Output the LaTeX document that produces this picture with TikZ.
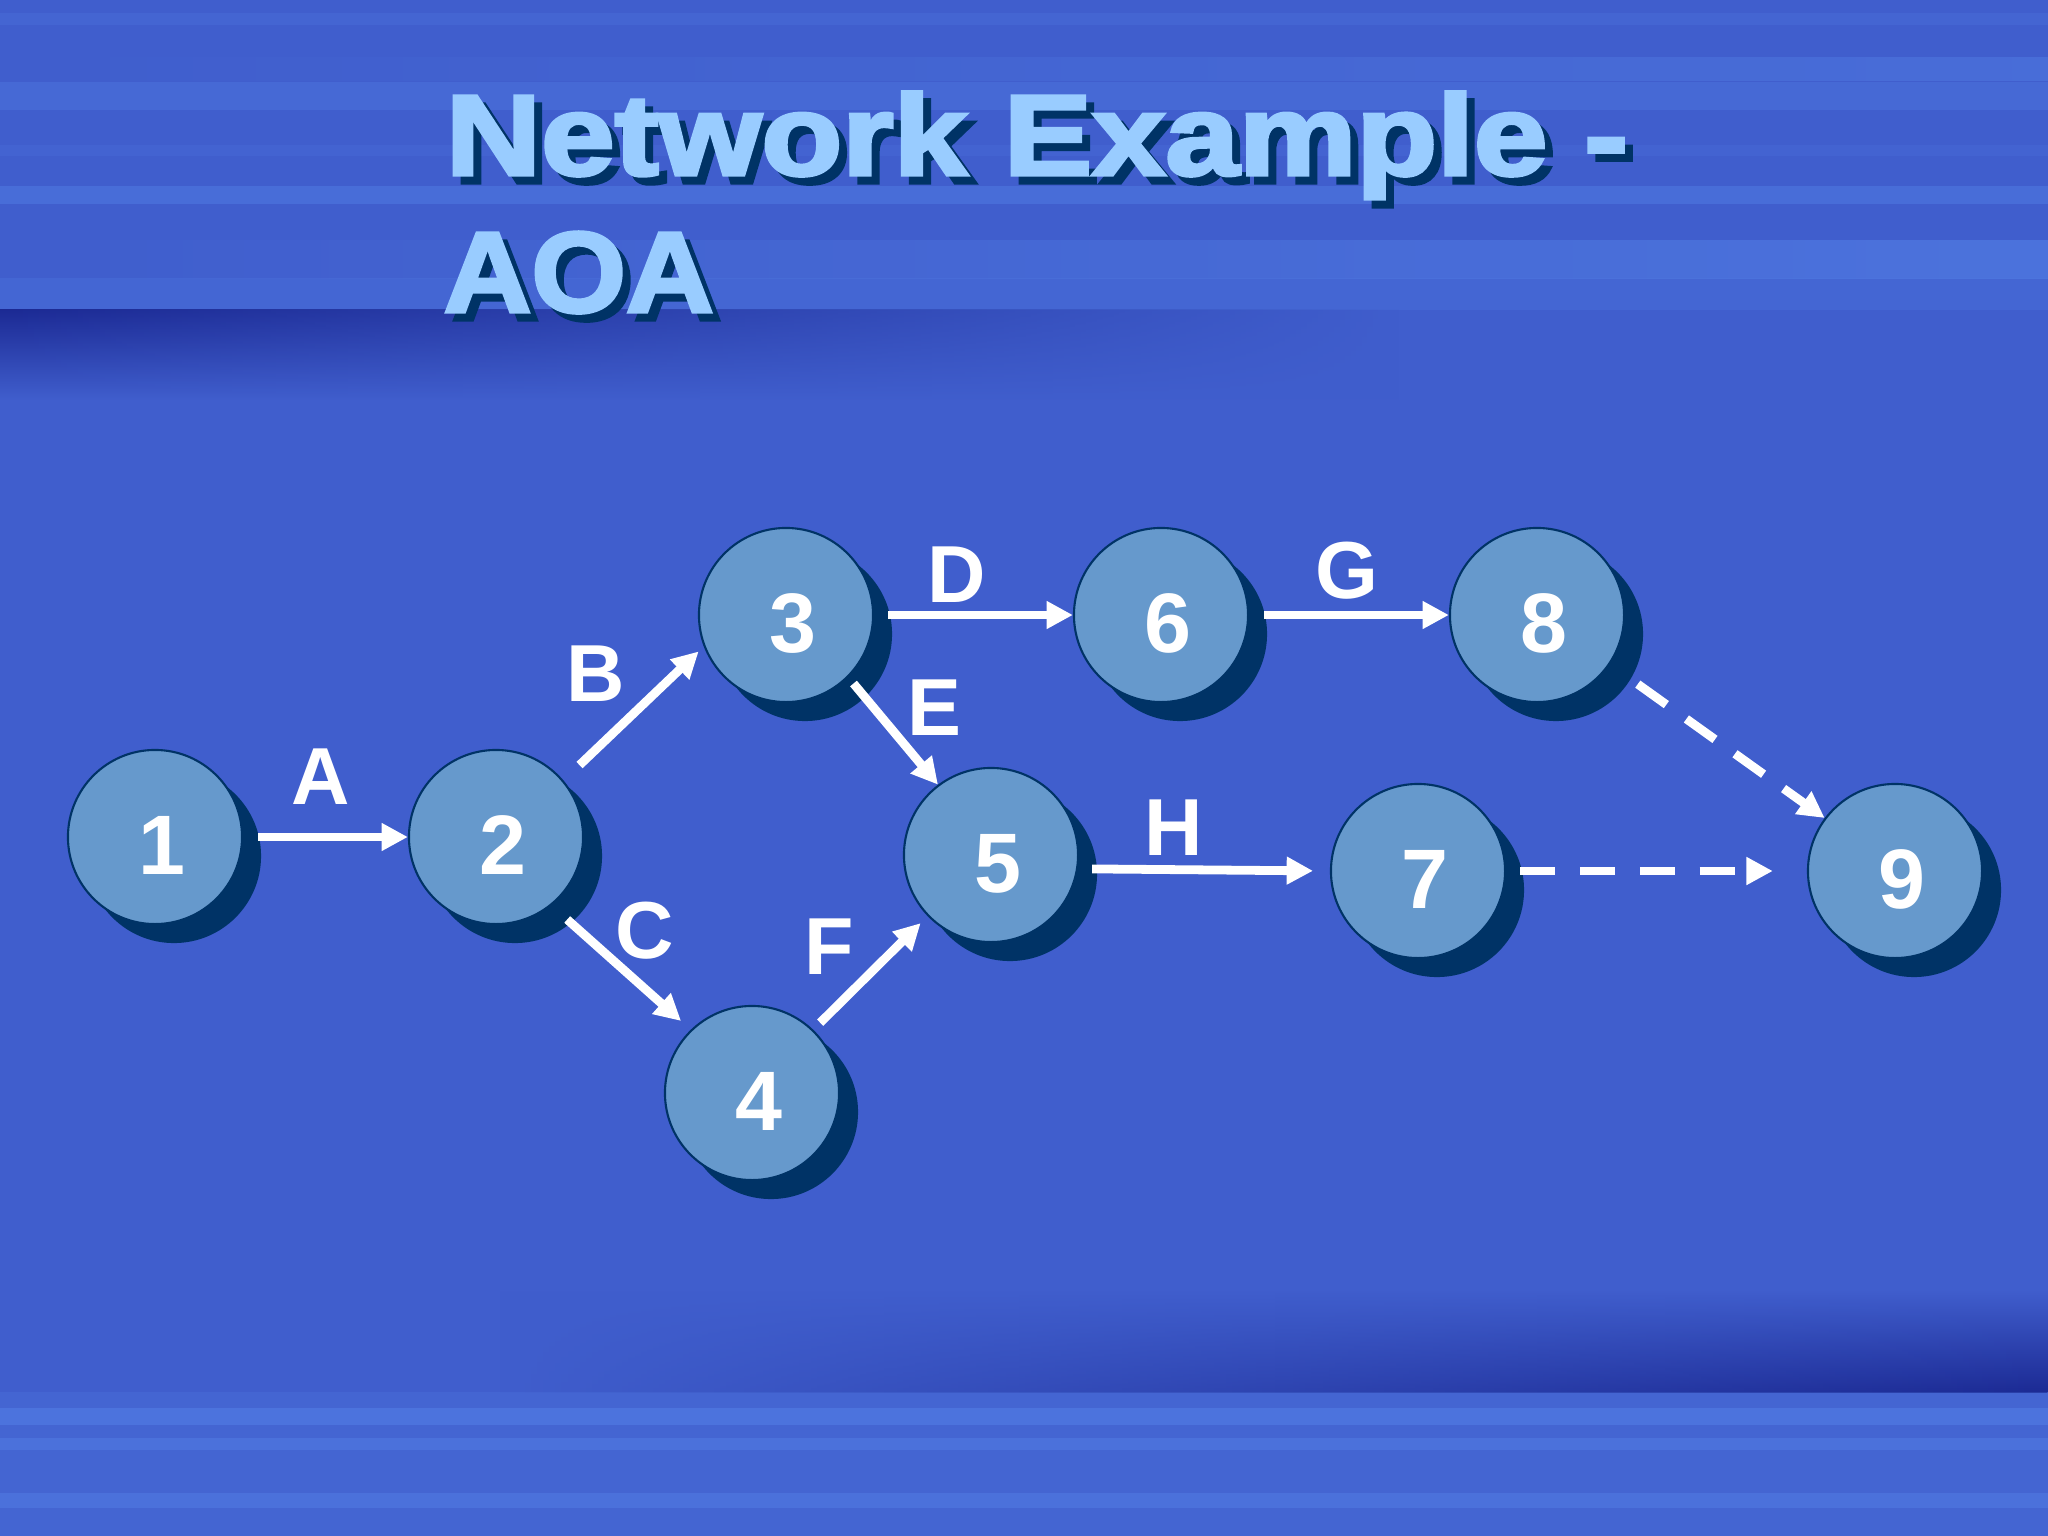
\documentclass[tikz,border=0pt]{standalone}
\usepackage{fontspec,graphicx}
\setmainfont{Liberation Sans}
\newfontfamily\titlefont[FakeBold=3]{Liberation Sans Bold}
\usetikzlibrary{arrows.meta,shadows,fadings}

\definecolor{slidebg}{RGB}{64,94,205}
\definecolor{stripe}{RGB}{80,122,226}
\definecolor{deepband}{RGB}{28,42,148}
\definecolor{eventfill}{RGB}{102,153,204}
\definecolor{navy}{RGB}{0,51,102}
\definecolor{titleblue}{RGB}{153,204,255}

\tikzfading[name=fade left, left color=transparent!100, right color=transparent!0]
\tikzfading[name=fade right, left color=transparent!0, right color=transparent!100]

\tikzset{
	event/.style={circle, draw=navy, line width=0.6pt, fill=eventfill, minimum size=1.74cm, inner sep=0pt,
		text=white, font=\fontsize{24}{24}\bfseries\selectfont, text height=0.75cm, text depth=0pt,
		execute at begin node={\hspace*{0.13cm}},
		drop shadow={shadow xshift=0.19cm, shadow yshift=-0.19cm, fill=navy, opacity=1}},
	actlabel/.style={text=white, font=\fontsize{23}{23}\bfseries\selectfont, inner sep=0pt},
	activity/.style={-{Triangle[length=7.5pt,width=7.5pt]}, white, line width=2.5pt},
	dummy/.style={activity, dash pattern=on 10pt off 7pt},
	titletext/.style={anchor=base west, inner sep=0pt, text=titleblue, font=\fontsize{32.6}{32.6}\titlefont},
	titleshade/.style={titletext, text=navy}
}

\begin{document}
\begin{tikzpicture}[x=0.01cm, y=-0.01cm]
		\useasboundingbox (0,0) rectangle (2048,1536);
		\fill[slidebg] (0,0) rectangle (2048,1536);
		
		\fill[stripe, opacity=.25] (0,13) rectangle (2048,25);
		\shade[left color=slidebg, right color=stripe, opacity=.55] (0,57) rectangle (2048,80);
		\fill[stripe, opacity=.4] (0,82) rectangle (2048,110);
		\fill[stripe, opacity=.2] (0,145) rectangle (2048,156);
		\fill[stripe, opacity=.55] (0,186) rectangle (2048,204);
		\shade[left color=slidebg, right color=stripe, opacity=.75] (0,240) rectangle (2048,278);
		\fill[stripe, opacity=.3] (0,278) rectangle (2048,310);
		\shade[top color=deepband, bottom color=slidebg, path fading=fade right] (0,310) rectangle (1400,400);
		
		\shade[top color=slidebg, bottom color=deepband, path fading=fade left] (500,1290) rectangle (2048,1392);
		\fill[stripe, opacity=.25] (0,1392) rectangle (2048,1536);
		\fill[stripe, opacity=.7] (0,1408) rectangle (2048,1425);
		\fill[stripe, opacity=.6] (0,1438) rectangle (2048,1450);
		\fill[stripe, opacity=.6] (0,1493) rectangle (2048,1508);
		
		\node[titleshade] (t1s) at (453,183) {\scalebox{1.153}[1]{Network Example -}};
		\node[titleshade] (t2s) at (451,320) {\scalebox{1.06}[1]{AOA}};
		\node[titletext] (t1) at (445,175) {\scalebox{1.153}[1]{Network Example -}};
		\node[titletext] (t2) at (443,312) {\scalebox{1.06}[1]{AOA}};
		
		\node[event] (n1) at (155,837) {1};
		\node[event] (n2) at (496,837) {2};
		\node[event] (n3) at (786,615) {3};
		\node[event] (n4) at (752,1093) {4};
		\node[event] (n5) at (991,855) {5};
		\node[event] (n6) at (1161,615) {6};
		\node[event] (n7) at (1418,871) {7};
		\node[event] (n8) at (1537,615) {8};
		\node[event] (n9) at (1895,871) {9};
		
		\node[actlabel] (lA) at (321,777) {A};
		\node[actlabel] (lB) at (596,674) {B};
		\node[actlabel] (lC) at (645,931) {C};
		\node[actlabel] (lD) at (957,575) {D};
		\node[actlabel] (lE) at (934,708) {E};
		\node[actlabel] (lF) at (829,947) {F};
		\node[actlabel] (lG) at (1347,571) {G};
		\node[actlabel] (lH) at (1174,828) {H};
		
		\draw[activity, shorten <=4.3pt] (n1)--(n2);
		\draw[activity, shorten <=6.3pt, shorten >=2pt] (n2.40)--(n3.201);
		\draw[activity, shorten <=6pt, shorten >=3.7pt] (n2.-51)--(n4.134);
		\draw[activity, shorten <=4pt] (n3)--(n6);
		\draw[activity, shorten <=2.3pt] (n3.-45)--(n5.127);
		\draw[activity, shorten <=2.8pt, shorten >=2.8pt] (n4.46)--(n5.224);
		\draw[activity, shorten <=4.3pt] (n6)--(n8);
		\draw[activity, shorten <=4pt, shorten >=4.8pt] (n5.-9)--(n7.180);
		\draw[dummy, shorten <=9.7pt] (n8.-34)--(n9.143);
		\draw[dummy, shorten <=4pt, shorten >=9.7pt] (n7)--(n9);
	\end{tikzpicture}
\end{document}
